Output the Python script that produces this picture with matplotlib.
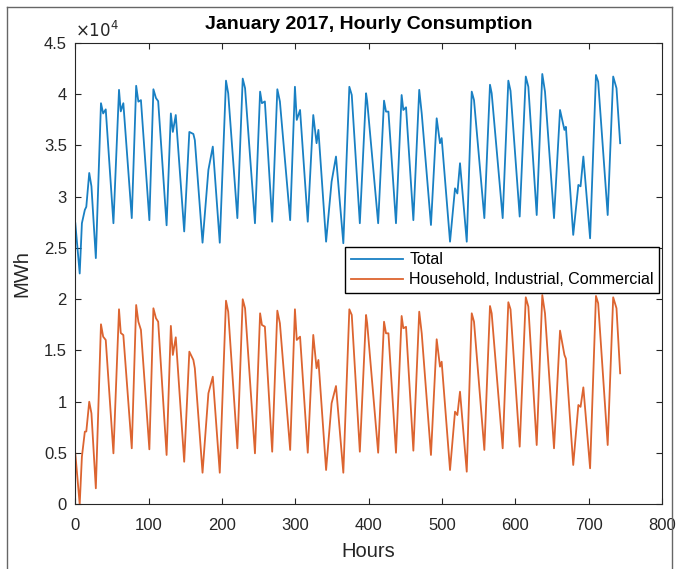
import matplotlib

matplotlib.use("Agg")
import matplotlib.pyplot as plt
from matplotlib.lines import Line2D
from matplotlib.ticker import FuncFormatter, MultipleLocator

plt.rcParams["font.family"] = ["Liberation Sans", "DejaVu Sans"]

# key points (hour of month, MWh)
hours = [
    0, 6, 9, 13, 15, 19, 22, 28,
    35, 38, 41.5, 52,
    59.6, 62, 65.5, 77,
    83, 86, 89.5, 101,
    106.5, 110, 113, 124.5,
    130.3, 133, 137, 148.5,
    155.5, 161, 163, 173.5,
    181.5, 187.5, 197,
    205.5, 208.5, 221,
    228.3, 231.5, 245,
    252, 254.5, 258.5, 268.5,
    275.5, 279, 293,
    299.5, 302, 306.5, 317,
    324.5, 329, 331.5, 342,
    349.5, 355.5, 365.5,
    373.7, 377, 388,
    396.5, 398, 413,
    421, 423.7, 427, 437.3,
    445, 447.3, 451, 461,
    469, 472.4, 485,
    492.8, 497.3, 499.6, 511,
    517.8, 521, 524.6, 533.8,
    540.6, 543.7, 557.8,
    565.5, 567.8, 582.8,
    590.5, 593.5, 606,
    614.3, 617.8, 629.2,
    636.8, 640.5, 652.8,
    661, 667, 669, 679,
    686, 689, 692.8, 702,
    710, 713, 726,
    733.5, 738, 743,
]

total = [
    27400, 22500, 27400, 28700, 29000, 32300, 31000, 24000,
    39100, 38100, 38500, 27400,
    40400, 38300, 39100, 27900,
    40800, 39250, 39400, 27700,
    40460, 39600, 39300, 27200,
    38100, 36300, 37950, 26600,
    36300, 36100, 35500, 25500,
    32600, 34870, 25500,
    41300, 40070, 27900,
    41500, 40560, 27400,
    40230, 39100, 39270, 27550,
    40460, 39270, 27700,
    40700, 37470, 38440, 27550,
    37950, 35200, 36500, 25600,
    31450, 33900, 25450,
    40700, 39900, 27400,
    40070, 39300, 27400,
    39350, 38280, 38280, 27400,
    39900, 38440, 38700, 27700,
    40400, 38100, 27230,
    37630, 35200, 35700, 25600,
    30800, 30300, 33250, 25600,
    40230, 39400, 27900,
    40900, 40070, 27900,
    41300, 40300, 28050,
    41700, 40700, 28200,
    41950, 40230, 27900,
    38440, 36500, 36800, 26260,
    31130, 31000, 33900, 25930,
    41850, 41200, 28200,
    41700, 40560, 35200,
]

household = [
    4970, 0, 4640, 7080, 7100, 10000, 8870, 1560,
    17550, 16340, 16020, 4970,
    19010, 16700, 16500, 5460,
    19430, 17800, 17000, 5360,
    19110, 18140, 17800, 4810,
    17390, 14560, 16280, 4150,
    14880, 14070, 13260, 3080,
    10820, 12440, 3080,
    19850, 18780, 5460,
    19990, 19110, 4970,
    18620, 17480, 17320, 5130,
    18880, 17650, 5300,
    19010, 16020, 16340, 5030,
    16510, 13260, 14070, 3340,
    9850, 11530, 3080,
    19010, 18460, 5130,
    18460, 17650, 5030,
    17800, 16670, 16670, 5030,
    18360, 17160, 17300, 5230,
    18780, 16670, 4810,
    16090, 13420, 13900, 3340,
    9030, 8700, 10980, 3180,
    18620, 17800, 5300,
    19330, 18620, 5460,
    19700, 19000, 5620,
    20180, 19270, 5780,
    20400, 18620, 5460,
    16930, 14560, 14200, 3830,
    9680, 9500, 11400, 3510,
    20310, 19600, 5780,
    20180, 19110, 12770,
]

dark = "#262626"
blue = "#0072BD"
orange = "#D95319"

fig = plt.figure(figsize=(6.79, 5.69), dpi=100)
ax = fig.add_axes([0.1109, 0.1137, 0.864, 0.8113])

ax.plot(hours, total, color=blue, lw=1.3, alpha=0.9, label="Total")
ax.plot(hours, household, color=orange, lw=1.3, alpha=0.9,
        label="Household, Industrial, Commercial")

ax.set_xlim(0, 800)
ax.set_ylim(0, 45000)
ax.xaxis.set_major_locator(MultipleLocator(100))
ax.yaxis.set_major_locator(MultipleLocator(5000))
ax.yaxis.set_major_formatter(FuncFormatter(lambda v, p: f"{v / 1e4:g}"))
ax.tick_params(direction="in", top=True, right=True, length=4, width=0.8,
               colors=dark, labelsize=12)
ax.tick_params(axis="x", pad=10)
ax.tick_params(axis="y", pad=6)
for s in ax.spines.values():
    s.set_color(dark)
    s.set_linewidth(0.8)

ax.text(0.0, 1.005, r"$\times10^4$", transform=ax.transAxes, ha="left",
        va="bottom", fontsize=12, color=dark)
ax.set_title("January 2017, Hourly Consumption", fontsize=14, fontweight="bold", pad=10)
ax.set_xlabel("Hours", fontsize=14.5, color=dark, labelpad=6)
ax.set_ylabel("MWh", fontsize=14.5, color=dark, labelpad=9)

leg = ax.legend(loc="upper left", bbox_to_anchor=(0.46, 0.558), fontsize=11.5,
                frameon=True, fancybox=False, framealpha=1, edgecolor="black",
                borderaxespad=0, handlelength=3.3, handletextpad=0.37,
                borderpad=0.35, labelspacing=0.3)
leg.get_frame().set_linewidth(1.0)

# grey frame around the whole figure
for xs, ys in [([7 / 679, 7 / 679], [0, 1 - 7 / 569]),
               ([7 / 679, 672 / 679], [1 - 7 / 569, 1 - 7 / 569]),
               ([672 / 679, 672 / 679], [0, 1 - 7 / 569])]:
    fig.add_artist(Line2D(xs, ys, transform=fig.transFigure, color="#666666", lw=1))

fig.savefig("out.png", dpi=100)
